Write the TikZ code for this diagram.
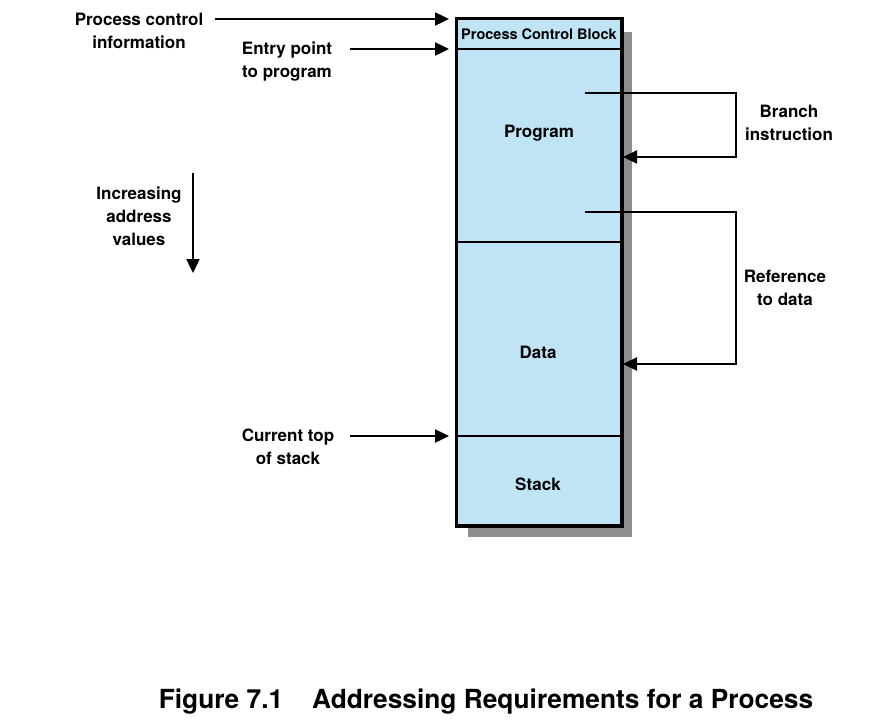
\documentclass[tikz,border=0pt]{standalone}
\usepackage{fontspec}
\setmainfont{TeX Gyre Heros}
\usetikzlibrary{arrows.meta}
\definecolor{segblue}{HTML}{BEE4F6}
\definecolor{shadowgray}{HTML}{8E8E8E}
\tikzset{every edge/.style={draw,line width=2.4pt,-{Triangle[length=14pt,width=13pt]}}}
\tikzstyle{segment}=[rectangle,draw=black,fill=segblue,line width=2pt,inner sep=0pt,minimum width=164pt]
\tikzstyle{label}=[align=center,inner sep=0pt,font=\fontsize{17}{23}\selectfont\bfseries]
\tikzstyle{arr}=[line width=2.4pt,-{Triangle[length=14pt,width=13pt]}]

\begin{document}
\begin{tikzpicture}[x=1pt,y=-1pt]
	\useasboundingbox (0,0) rectangle (886,728);
	\fill[shadowgray] (468,32) rectangle (632,537);
	\node at (539,34) [segment,minimum height=30pt] (pcb) {};
	\node at (539,145.5) [segment,minimum height=193pt] (prog) {};
	\node at (539,339) [segment,minimum height=194pt] (data) {};
	\node at (539,480.5) [segment,minimum height=89pt] (stack) {};
	\draw[line width=3pt] (pcb.north west) rectangle (stack.south east);
	\node at (539,34) [inner sep=0pt,font=\fontsize{14.5}{16}\selectfont\bfseries] {Process Control Block};
	\node at (539,133) [label] {Program};
	\node at (538,352) [label] {Data};
	\node at (538,484) [label] {Stack};
	\node at (139,31) [label] (pcinfo) {Process control\\information};
	\node at (287,61.5) [label] (entry) {Entry point\\to program};
	\node at (139,216) [label] (incr) {Increasing\\address\\values};
	\node at (288,447) [label] (top) {Current top\\of stack};
	\node at (789,122.5) [label] (branch) {Branch\\instruction};
	\node at (785,288) [label] (ref) {Reference\\to data};
	\coordinate (pcin) at (449,19);
	\coordinate (entryin) at (449,49);
	\coordinate (topin) at (449,436);
	\coordinate (incrtop) at (193,173);
	\coordinate (incrend) at (193,273);
	\coordinate (brfrom) at (585,93);
	\coordinate (brto) at (623,157);
	\coordinate (reffrom) at (585,212);
	\coordinate (refto) at (623,364);
	\draw (215,19) edge (pcin);
	\draw (350,49) edge (entryin);
	\draw (350,436) edge (topin);
	\draw (incrtop) edge (incrend);
	\draw[arr] (brfrom) -- ++(151,0) |- (brto);
	\draw[arr] (reffrom) -- ++(151,0) |- (refto);
	\node at (486,702) [inner sep=0pt,font=\fontsize{26.3}{30}\selectfont\bfseries] (caption) {Figure 7.1\hspace{1.1em}Addressing Requirements for a Process};
\end{tikzpicture}
\end{document}
